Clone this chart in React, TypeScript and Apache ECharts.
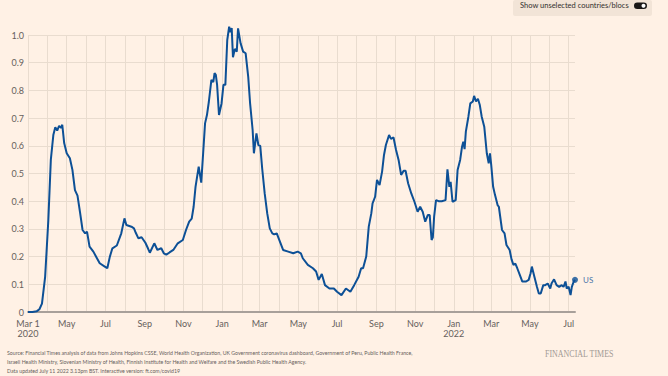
import React, { useEffect, useRef } from "react";
import * as echarts from "echarts";

// Days since Mar 1 2020 and the US value
const dayOffsets = [
  0, 7, 14, 18, 22, 27, 32, 36, 40, 43, 46, 49, 52, 54, 57, 61, 66, 70, 74, 78, 82, 86, 90, 93, 97,
  103, 108, 113, 121, 125, 129, 133, 140, 147, 152, 155, 163, 167, 170, 174, 179, 185, 189, 192, 199,
  204, 210, 214, 218, 223, 229, 236, 244, 249, 254, 258, 261, 264, 269, 273, 276, 279, 282, 285, 289,
  292, 294, 296, 298, 301, 305, 308, 311, 314, 317, 319, 321, 323, 326, 329, 331, 335, 339, 343, 347,
  350, 354, 356, 360, 363, 366, 369, 373, 377, 381, 385, 388, 392, 397, 402, 410, 418, 425, 430, 433,
  441, 449, 454, 458, 463, 468, 475, 482, 487, 494, 501, 508, 514, 521, 525, 528, 533, 537, 541, 543,
  547, 550, 554, 558, 561, 564, 569, 572, 576, 580, 584, 588, 592, 595, 599, 604, 609, 614, 618, 622,
  626, 630, 633, 636, 638, 640, 643, 647, 652, 658, 661, 664, 666, 669, 674, 677, 681, 684, 686, 688,
  690, 694, 697, 701, 703, 706, 709, 712, 715, 719, 723, 726, 728, 730, 733, 736, 740, 742, 747, 751,
  754, 759, 762, 765, 768, 771, 775, 779, 785, 789, 792, 794, 798, 802, 805, 808, 812, 815, 819, 823,
  825, 829, 833, 837, 841, 844, 847, 849, 852, 855, 857, 860, 862,
];

const usValues = [
  0, 0, 0.003, 0.01, 0.03, 0.127, 0.33, 0.55, 0.64, 0.667, 0.655, 0.672, 0.665, 0.676, 0.61, 0.573,
  0.555, 0.513, 0.44, 0.42, 0.36, 0.296, 0.284, 0.29, 0.236, 0.218, 0.197, 0.176, 0.164, 0.158, 0.2,
  0.23, 0.24, 0.284, 0.338, 0.314, 0.308, 0.302, 0.285, 0.266, 0.27, 0.25, 0.23, 0.214, 0.248, 0.224,
  0.23, 0.212, 0.207, 0.215, 0.224, 0.248, 0.26, 0.296, 0.326, 0.337, 0.38, 0.452, 0.525, 0.467, 0.573,
  0.681, 0.711, 0.759, 0.838, 0.83, 0.862, 0.856, 0.82, 0.711, 0.753, 0.82, 0.82, 0.982, 1.03, 1.01,
  1.025, 0.92, 0.95, 0.94, 1.024, 0.97, 0.94, 0.934, 0.85, 0.753, 0.657, 0.573, 0.645, 0.603, 0.6,
  0.519, 0.428, 0.356, 0.302, 0.284, 0.28, 0.284, 0.254, 0.224, 0.218, 0.212, 0.218, 0.212, 0.194,
  0.17, 0.158, 0.146, 0.116, 0.137, 0.097, 0.085, 0.085, 0.073, 0.061, 0.085, 0.073, 0.097, 0.127,
  0.158, 0.158, 0.2, 0.308, 0.356, 0.392, 0.416, 0.477, 0.458, 0.507, 0.567, 0.603, 0.639, 0.625, 0.63,
  0.585, 0.549, 0.495, 0.51, 0.51, 0.465, 0.428, 0.398, 0.362, 0.38, 0.362, 0.326, 0.35, 0.35, 0.26,
  0.27, 0.344, 0.404, 0.4, 0.4, 0.404, 0.515, 0.452, 0.47, 0.398, 0.404, 0.513, 0.549, 0.597, 0.615,
  0.588, 0.651, 0.705, 0.753, 0.76, 0.78, 0.76, 0.77, 0.747, 0.705, 0.669, 0.573, 0.537, 0.573, 0.53,
  0.452, 0.422, 0.386, 0.38, 0.296, 0.284, 0.242, 0.224, 0.19, 0.17, 0.175, 0.158, 0.134, 0.11, 0.11,
  0.116, 0.14, 0.164, 0.127, 0.091, 0.067, 0.067, 0.097, 0.097, 0.103, 0.085, 0.103, 0.118, 0.097,
  0.091, 0.097, 0.091, 0.11, 0.085, 0.091, 0.061, 0.091, 0.11, 0.116,
];

const seriesLabel = "US";
const monthNames = ["Jan", "Feb", "Mar", "Apr", "May", "Jun", "Jul", "Aug", "Sep", "Oct", "Nov", "Dec"];
const gridMonthsCount = 29; // month starts Mar 2020 .. Jul 2022
const yMin = 0;
const yMax = 1;
const yInterval = 0.1;

const toggleText = "Show unselected countries/blocs";
const sourceLines = [
  "Source: Financial Times analysis of data from Johns Hopkins CSSE, World Health Organization, UK Government coronavirus dashboard, Government of Peru, Public Health France,",
  "Israeli Health Ministry, Slovenian Ministry of Health, Finnish Institute for Health and Welfare and the Swedish Public Health Agency.",
  "Data updated July 11 2022 3.13pm BST. Interactive version: ft.com/covid19",
];
const brandText = "FINANCIAL TIMES";

const dayTs = (d: number) => new Date(2020, 2, 1 + d).getTime();

export default function App() {
  const ref = useRef<HTMLDivElement>(null);

  useEffect(() => {
    if (!ref.current) return;
    const chart = echarts.init(ref.current, null, { renderer: "svg" });

    const data = dayOffsets.map((d, i) => [dayTs(d), usValues[i]]);
    const last = data[data.length - 1];

    const monthTicks: number[] = [];
    for (let i = 0; i < gridMonthsCount; i++) monthTicks.push(new Date(2020, 2 + i, 1).getTime());
    const labelTicks = monthTicks.filter((_, i) => i % 2 === 0);

    const font = "Lato, 'Noto Sans', sans-serif";
    const grey = "#66605c";
    const gridColor = "#e9dccf";
    const blue = "#0d5096";

    chart.setOption({
      animation: false,
      backgroundColor: "#fff1e5",
      grid: { left: 28, right: 93, top: 35, bottom: 64, containLabel: false },
      xAxis: {
        type: "value",
        min: dayTs(0),
        max: last[0],
        axisLine: { show: true, lineStyle: { color: "#a8a09a", width: 2 } },
        axisTick: { show: false, customValues: monthTicks },
        splitLine: { show: true, lineStyle: { color: gridColor, width: 1 } },
        axisLabel: {
          customValues: labelTicks,
          hideOverlap: false,
          showMinLabel: true,
          showMaxLabel: true,
          color: grey,
          fontSize: 9,
          fontFamily: font,
          margin: 6,
          lineHeight: 10,
          formatter: (v: number) => {
            const dt = new Date(v);
            const m = dt.getMonth();
            const y = dt.getFullYear();
            if (y === 2020 && m === 2) return "Mar 1\n2020";
            if (y === 2022 && m === 0) return "Jan\n2022";
            return monthNames[m];
          },
        },
      },
      yAxis: {
        type: "value",
        min: yMin,
        max: yMax,
        interval: yInterval,
        axisLine: { show: false },
        axisTick: { show: false },
        splitLine: { show: true, lineStyle: { color: gridColor, width: 1 } },
        axisLabel: {
          color: grey,
          fontSize: 9,
          fontFamily: font,
          margin: 4,
          formatter: (v: number) => (v === 0 ? "0" : v.toFixed(1)),
        },
      },
      series: [
        {
          type: "line",
          data,
          showSymbol: false,
          clip: false,
          lineStyle: { color: blue, width: 2 },
          itemStyle: { color: blue },
        },
        {
          type: "scatter",
          data: [last],
          symbolSize: 6,
          clip: false,
          itemStyle: { color: blue },
          label: {
            show: true,
            position: "right",
            distance: 5,
            formatter: seriesLabel,
            color: blue,
            fontSize: 8,
            fontFamily: font,
          },
        },
      ],
      graphic: [
        { type: "rect", shape: { x: 513, y: 0, width: 139, height: 16, r: 2 }, style: { fill: "#f2e4d7" } },
        {
          type: "text",
          x: 520,
          y: 5.5,
          style: { text: toggleText, fill: "#33302e", fontSize: 7.5, fontFamily: font, verticalAlign: "middle" },
        },
        { type: "rect", shape: { x: 634, y: 2.5, width: 13, height: 6.5, r: 3.25 }, style: { fill: "#1a1817" } },
        { type: "circle", shape: { cx: 643.5, cy: 5.75, r: 2 }, style: { fill: "#ffffff" } },
        ...sourceLines.map((t, i) => ({
          type: "text",
          x: 7,
          y: 353 + i * 9,
          scaleX: 0.9,
          style: { text: t, fill: grey, fontSize: 5.8, fontFamily: font, verticalAlign: "middle" },
        })),
        {
          type: "text",
          x: 545,
          y: 354,
          scaleX: 0.84,
          style: {
            text: brandText,
            fill: "#a39b95",
            fontSize: 9.5,
            fontFamily: "'Liberation Serif', 'DejaVu Serif', serif",
            verticalAlign: "middle",
          },
        },
      ],
    });

    return () => chart.dispose();
  }, []);

  return (
    <div
      ref={ref}
      style={{ position: "absolute", left: 0, top: 0, width: 668, height: 376 }}
    />
  );
}
